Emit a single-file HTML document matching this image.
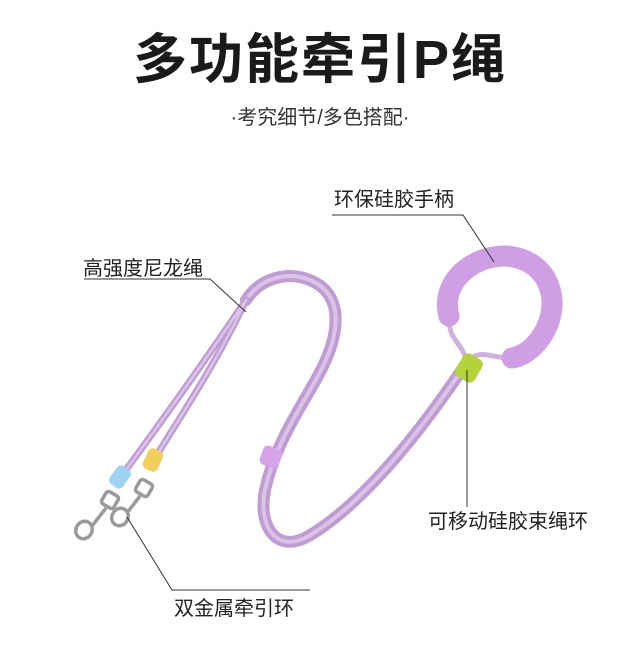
<!DOCTYPE html>
<html><head><meta charset="utf-8"><style>
body{margin:0;width:640px;height:640px;background:#fff;overflow:hidden;font-family:"Liberation Sans","Noto Sans CJK SC",sans-serif}
</style></head><body>
<svg width="640" height="640" viewBox="0 0 640 640" xmlns="http://www.w3.org/2000/svg">
<text x="320" y="78" text-anchor="middle" font-size="54" font-weight="bold" fill="#1a1a1a" font-family="Liberation Sans,Noto Sans CJK SC,sans-serif" letter-spacing="2">多功能牵引P绳</text>
<text x="320" y="124" text-anchor="middle" font-size="20" fill="#333" font-family="Liberation Sans,Noto Sans CJK SC,sans-serif">·考究细节/多色搭配·</text>
<g fill="none" stroke-linecap="round">
<path d="M246,300 C262,276 290,271 312,281 C345,296 340,336 318,376 C298,412 275,445 265,490 C258,525 275,552 305,538 C360,508 420,432 463,368" stroke="#c09cd4" stroke-width="12"/>
<path d="M246,300 C262,276 290,271 312,281 C345,296 340,336 318,376 C298,412 275,445 265,490 C258,525 275,552 305,538 C360,508 420,432 463,368" stroke="#dac4e6" stroke-width="4"/>
<path d="M120,478 C170,410 215,346 246,300" stroke="#c09cd4" stroke-width="7"/>
<path d="M153,461 C185,410 220,356 246,300" stroke="#c09cd4" stroke-width="7"/>
<path d="M120,478 C170,410 215,346 246,300" stroke="#dac4e6" stroke-width="2.5"/>
<path d="M153,461 C185,410 220,356 246,300" stroke="#dac4e6" stroke-width="2.5"/>
<path d="M450,322 C448,340 465,344 467,365" stroke="#d0b0e0" stroke-width="5"/>
<path d="M467,363 C480,345 495,362 512,356" stroke="#d0b0e0" stroke-width="5"/>
<path d="M449,316 C440,284 470,256 505,256 C545,258 560,294 548,324 C540,344 525,356 512,358" stroke="#ddb0ee" stroke-width="21"/>
<path d="M449,316 C440,284 470,256 505,256 C545,258 560,294 548,324 C540,344 525,356 512,358" stroke="#bf8ad6" stroke-width="21" stroke-dasharray="1.5 3.5" opacity="0.45"/>
</g>
<rect x="458" y="355" width="22" height="26" rx="6" fill="#b4d23a" transform="rotate(30 469 368)"/>
<rect x="261" y="447" width="20" height="20" rx="5" fill="#d6a2ea" transform="rotate(20 271 457)"/>
<rect x="112" y="466" width="16" height="22" rx="5" fill="#9fd3f2" transform="rotate(35 120 477)"/>
<rect x="145" y="449" width="16" height="22" rx="5" fill="#f2cf5c" transform="rotate(25 153 460)"/>
<g fill="none" stroke="#9a9a9a" stroke-width="3.5">
<rect x="103" y="493" width="14" height="14" rx="3" transform="rotate(30 110 500)"/>
<path d="M106,508 L92,526"/>
<ellipse cx="84" cy="530" rx="8" ry="9" transform="rotate(30 84 530)"/>
<rect x="137" y="481" width="14" height="14" rx="3" transform="rotate(30 144 488)"/>
<path d="M140,496 L127,513"/>
<ellipse cx="120" cy="517" rx="8" ry="9" transform="rotate(30 120 517)"/>
</g>
<g stroke="#333" stroke-width="1" fill="none">
<path d="M84,279 H210 L246,312"/>
<path d="M332,215 H463 L494,262"/>
<path d="M467,370 V507"/>
<path d="M127,517 L172,590 H310"/>
</g>
<g font-size="20" fill="#222" font-family="Liberation Sans,Noto Sans CJK SC,sans-serif">
<text x="83" y="275">高强度尼龙绳</text>
<text x="334" y="206">环保硅胶手柄</text>
<text x="428" y="528">可移动硅胶束绳环</text>
<text x="174" y="615">双金属牵引环</text>
</g>
</svg>
</body></html>
